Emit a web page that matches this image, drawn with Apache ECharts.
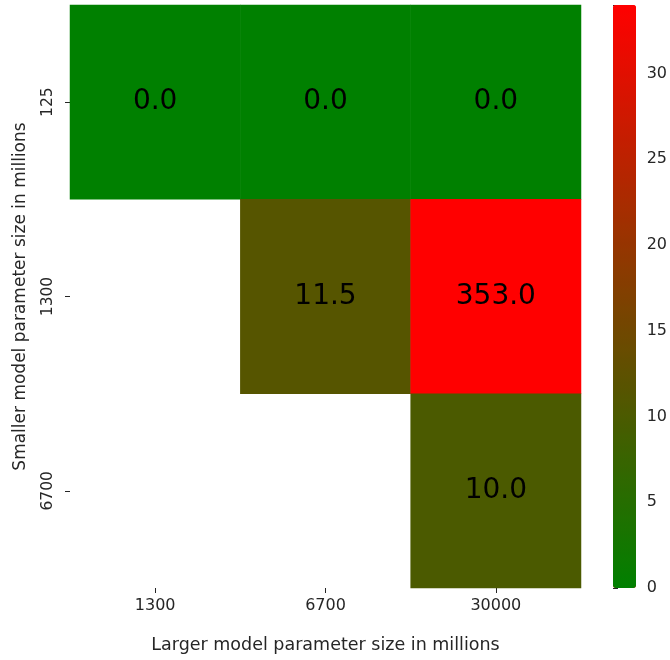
<!DOCTYPE html>
<html><head><meta charset="utf-8">
<script src="https://cdn.jsdelivr.net/npm/echarts@6/dist/echarts.min.js"></script>
<style>html,body{margin:0;padding:0;background:#fff;}#c{width:670px;height:660px;}</style>
</head><body><div id="c"></div>
<script>
const xCategories = ['1300', '6700', '30000'];
const yCategories = ['125', '1300', '6700'];
const row125 = [0.0, 0.0, 0.0];
const row1300 = [null, 11.5, 353.0];
const row6700 = [null, null, 10.0];
const colorbarTicks = [0, 5, 10, 15, 20, 25, 30];
const colorMax = 34;

const rows = [row125, row1300, row6700];
const data = [];
rows.forEach((r, yi) => r.forEach((v, xi) => { if (v !== null) data.push([xi, yi, v]); }));

const txt = '#262626';
const font = 'DejaVu Sans';
const chart = echarts.init(document.getElementById('c'));
chart.setOption({
  animation: false,
  backgroundColor: '#fff',
  textStyle: { fontFamily: font },
  grid: [
    { left: 70, top: 5, width: 511, height: 583 },
    { left: 613, top: 5, width: 23, height: 583 }
  ],
  xAxis: [
    { type: 'category', data: xCategories, gridIndex: 0,
      axisLine: { show: false },
      axisTick: { show: true, alignWithLabel: true, length: 5, lineStyle: { color: txt } },
      axisLabel: { color: txt, fontSize: 16, margin: 10, fontFamily: font },
      name: 'Larger model parameter size in millions', nameLocation: 'middle', nameGap: 48,
      nameTextStyle: { color: txt, fontSize: 17.5, fontFamily: font },
      splitLine: { show: false } },
    { type: 'value', gridIndex: 1, show: false, min: 0, max: 1 }
  ],
  yAxis: [
    { type: 'category', data: yCategories, gridIndex: 0, inverse: true,
      axisLine: { show: false },
      axisTick: { show: true, alignWithLabel: true, length: 5, lineStyle: { color: txt } },
      axisLabel: { color: txt, fontSize: 15.5, margin: 14, rotate: 90, fontFamily: font },
      name: 'Smaller model parameter size in millions', nameLocation: 'middle', nameGap: 41, nameRotate: 90,
      nameTextStyle: { color: txt, fontSize: 17, fontFamily: font },
      splitLine: { show: false } },
    { type: 'value', gridIndex: 1, position: 'right', min: 0, max: colorMax, interval: 5,
      axisLine: { show: false },
      axisTick: { show: true, length: 5, lineStyle: { color: txt } },
      axisLabel: { color: txt, fontSize: 16, margin: 13, fontFamily: font,
        formatter: v => colorbarTicks.includes(v) ? String(v) : '' },
      splitLine: { show: false } }
  ],
  visualMap: {
    type: 'continuous', min: 0, max: colorMax, dimension: 2, seriesIndex: 0,
    orient: 'vertical', left: 613, top: 5, itemWidth: 23, itemHeight: 583,
    padding: 0, calculable: false, showLabel: false, text: null, hoverLink: false,
    indicatorIcon: 'none', indicatorSize: 0, handleSize: 0,
    indicatorStyle: { opacity: 0 }, handleStyle: { opacity: 0 },
    inRange: { color: ['#008000', '#ff0000'] },
    outOfRange: { color: ['#ff0000'] }
  },
  series: [
    { type: 'heatmap', xAxisIndex: 0, yAxisIndex: 0, data: data,
      label: { show: true, color: '#000', fontSize: 28, fontFamily: font,
        formatter: p => p.value[2].toFixed(1) },
      itemStyle: { borderWidth: 0 },
      emphasis: { disabled: true } },
    { type: 'scatter', xAxisIndex: 1, yAxisIndex: 1, data: [], silent: true }
  ]
});
</script>
</body></html>
